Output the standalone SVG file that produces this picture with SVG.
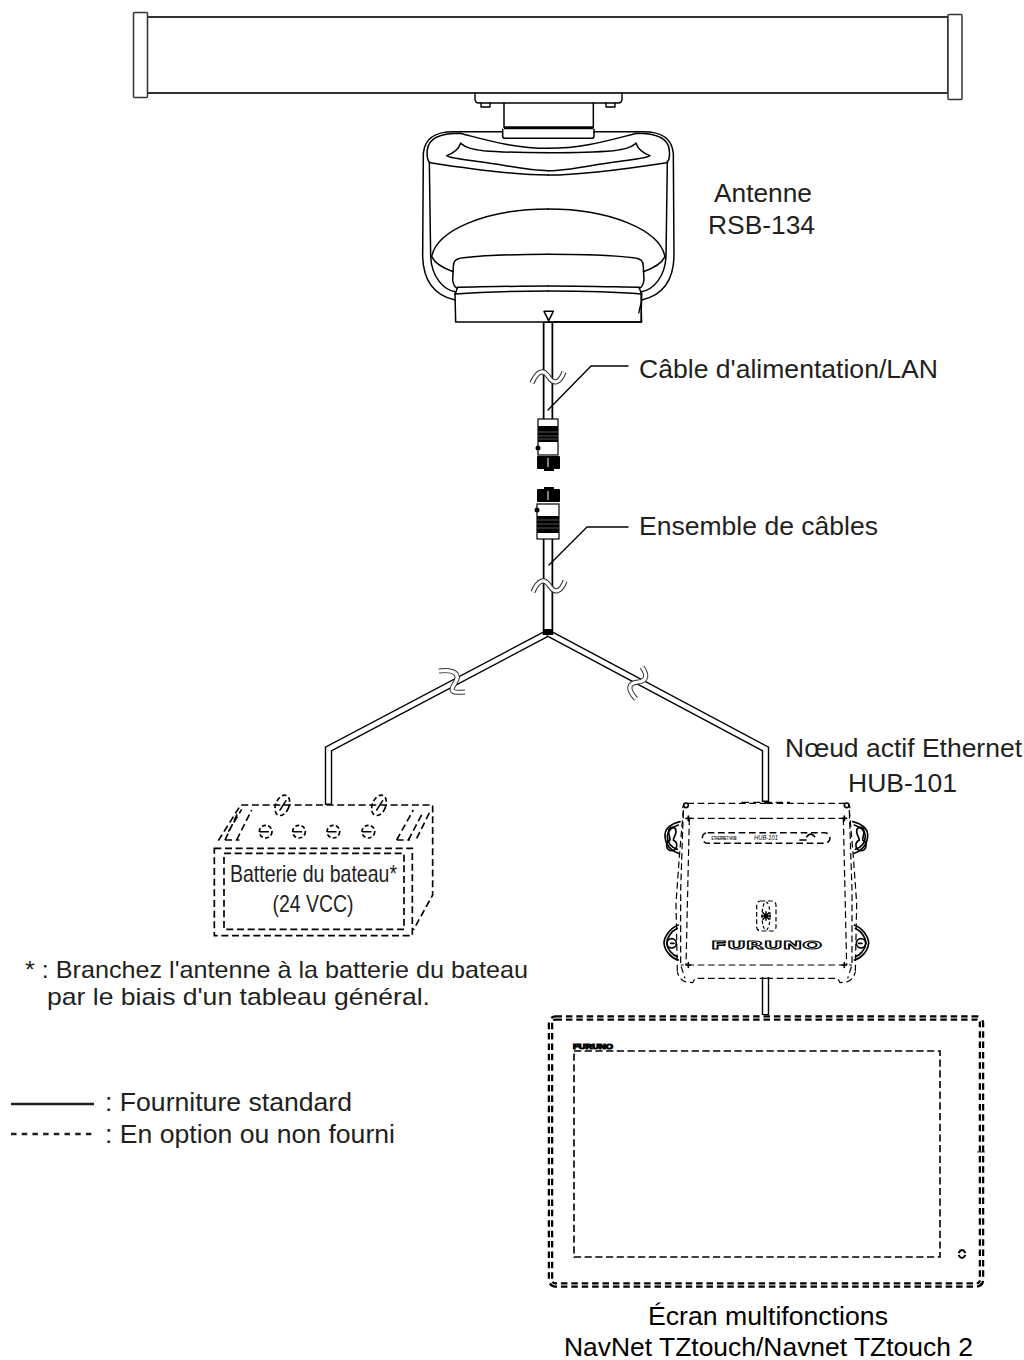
<svg xmlns="http://www.w3.org/2000/svg" xmlns:xlink="http://www.w3.org/1999/xlink" width="1024" height="1360" viewBox="0 0 1024 1360">
<style>
text{font-family:"Liberation Sans",Arial,sans-serif;fill:#231f20;font-size:26px}
.l{fill:none;stroke:#000;stroke-width:1.4;stroke-linejoin:round;stroke-linecap:round}
.z{fill:none;stroke:#000;stroke-width:4.5;stroke-linejoin:round;stroke-linecap:round}
.zw{fill:#fff;stroke:#000;stroke-width:4.5;stroke-linejoin:round}
.bd{fill:none;stroke:#000;stroke-width:5;stroke-dasharray:21 11}
.hd{fill:none;stroke:#000;stroke-width:3.6;stroke-dasharray:20 11}
.e{fill:none;stroke:#000;stroke-width:5;stroke-linejoin:round;stroke-linecap:round}
.co{fill:none;stroke:#000;stroke-width:10.500;stroke-linejoin:miter}
.ci{fill:none;stroke:#fff;stroke-width:7;stroke-linejoin:miter}
.bo{fill:none;stroke:#000;stroke-width:7.400;stroke-linejoin:miter}
.bi{fill:none;stroke:#fff;stroke-width:4.600;stroke-linejoin:miter}
.wo{fill:none;stroke:#333;stroke-width:5.200;stroke-linecap:butt}
.wi{fill:none;stroke:#fff;stroke-width:3.200;stroke-linecap:butt}
.k{fill:#000}
</style>
<defs>
<g id="body-half">
<path class="z" d="M308,125L160,125C110,125 75,140 70,190L68,500C70,570 100,615 165,630"/>
<path class="z" d="M82,180C85,145 120,130 180,130C260,150 340,175 445,175"/>
<path class="z" d="M82,180C80,200 82,212 90,218C200,235 340,255 445,255"/>
<path class="z" d="M88,215L92,500C95,560 130,600 168,606"/>
<path class="z" d="M182,160C175,180 160,190 140,197C150,205 200,210 240,215C320,225 380,242 445,242"/>
<path class="z" d="M182,160C200,175 220,178 250,182C320,188 380,188 445,188"/>
<path class="z" d="M95,500C110,420 260,357 445,357"/>
<path class="z" d="M95,500C105,520 130,535 160,545"/>
<path class="z" d="M445,493C350,493 250,497 190,503C165,505 160,515 160,530L158,570C160,585 165,592 172,595"/>
<path class="z" d="M172,592C280,590 350,588 445,588"/>
<path class="z" d="M165,612L172,595"/>
<path class="z" d="M165,612C250,605 350,603 445,603"/>
<path class="z" d="M165,612L167,696L445,696"/>
</g>
<g id="hub-half">
<path class="hd" d="M349,40L115,40C105,40 98,45 98,55"/>
<path class="hd" d="M349,85L100,85"/>
<path class="hd" d="M349,525L92,525"/>
<path class="hd" d="M349,565L135,565L128,578L105,575C95,572 85,560 82,545"/>
<path class="hd" d="M100,60L88,200L78,340L82,545"/>
<path class="hd" d="M118,85L108,525"/>
<path class="hd" d="M100,65L92,300L92,525L105,565"/>
<path class="e" d="M90,95C65,100 45,115 45,135C45,165 60,180 85,190"/>
<path class="e" d="M85,105C65,112 52,122 52,138C52,160 65,172 82,178"/>
<path class="e" d="M85,405C60,415 42,440 42,460C45,485 65,505 85,510"/>
<path class="e" d="M82,415C62,425 50,445 50,460C53,480 68,495 82,500"/>
<path class="e" d="M56,125C56,108 78,108 78,125C78,135 70,142 70,150C88,160 80,182 65,182C50,182 42,160 60,150C60,142 56,135 56,125Z"/>
<circle class="e" cx="65" cy="460" r="14"/>
<path class="e" d="M62,460H72"/>
<circle class="e" cx="108" cy="46" r="7"/>
<path class="e" d="M108,525H122M115,518V532M108,85H122M115,78V92"/>
</g>
</defs>

<g id="connectors">
<path class="bo" d="M548,633L328.500,749V805"/>
<path class="bi" d="M548,633L328.500,749V803.500"/>
<path class="bo" d="M548,633L765.500,749V802"/>
<path class="bi" d="M548,633L765.500,749V800.500"/>
<path class="bo" d="M765.500,977V1015"/>
<path class="bi" d="M765.500,977V1014"/>
<path class="co" d="M548,322V420"/>
<path class="ci" d="M548,323V420"/>
<path class="co" d="M548,538V635"/>
<path class="ci" d="M548,538V630"/>
<rect class="k" x="543" y="629" width="10" height="6"/>
<path class="wo" d="M532,383C537,371 543,369 548,376C553,384 559,385 564,372"/>
<path class="wi" d="M532,383C537,371 543,369 548,376C553,384 559,385 564,372"/>
<path class="wo" d="M533,592C538,580 544,578 549,585C554,593 560,594 565,581"/>
<path class="wi" d="M533,592C538,580 544,578 549,585C554,593 560,594 565,581"/>
<path class="wo" d="M439,671C454,669 461,674 455,683C449,692 452,693 465,692"/>
<path class="wi" d="M439,671C454,669 461,674 455,683C449,692 452,693 465,692"/>
<path class="wo" d="M636,699C627,689 628,683 638,682C648,681 647,674 642,667"/>
<path class="wi" d="M636,699C627,689 628,683 638,682C648,681 647,674 642,667"/>
<path class="l" d="M548,410L591,366H628"/>
<path class="l" d="M549,565L587,527H628"/>
</g>

<g id="antenna">
<rect x="147" y="17" width="801" height="76" fill="#fff" stroke="#333" stroke-width="2"/>
<rect x="133.500" y="12.500" width="14" height="85" rx="1" fill="#fff" stroke="#333" stroke-width="1.500"/>
<rect x="948" y="14.500" width="14" height="85" rx="1" fill="#fff" stroke="#333" stroke-width="1.500"/>
<path class="l" fill="#fff" d="M475,93V99Q475,103 479,103H618Q622,103 622,99V93"/>
<path class="l" d="M481,103V107H490V103M606,103V107H615V103"/>
<g transform="translate(400,90) scale(.33333)">
<use xlink:href="#body-half" href="#body-half"/>
<use xlink:href="#body-half" href="#body-half" transform="translate(890,0) scale(-1,1)"/>
<path class="z" d="M312,40V112M580,40V112M308,118V138Q308,145 315,145H575Q582,145 582,138V118"/>
<path style="fill:none;stroke:#000;stroke-width:9" d="M312,113H580"/>
<path style="fill:none;stroke:#000;stroke-width:4" d="M723,612L725,696H445M725,630L716,670"/>
<path class="zw" d="M432,664H460L446,692Z"/>
</g>
</g>

<g id="connector-upper">
<rect x="538" y="419" width="20" height="36" fill="#fff" stroke="#000" stroke-width="1.200"/>
<rect x="538" y="426" width="20" height="3" class="k"/>
<rect x="538" y="429" width="20" height="13" class="k"/>
<path stroke="#777" stroke-width=".7" d="M538,432H558M538,436H558M538,439H558"/>
<circle cx="538" cy="448" r="2.500" class="k"/>
<rect x="537" y="456" width="23" height="13" rx="1" class="k"/>
<rect x="544" y="469" width="10" height="2" class="k"/>
<path stroke="#fff" stroke-width="1" d="M548,458V467"/>
</g>
<g id="connector-lower">
<rect x="544" y="487" width="10" height="2" class="k"/>
<rect x="537" y="489" width="23" height="13" rx="1" class="k"/>
<path stroke="#fff" stroke-width="1" d="M548,491V500"/>
<rect x="537" y="504" width="22" height="35" fill="#fff" stroke="#000" stroke-width="1.200"/>
<rect x="537" y="516" width="22" height="17" class="k"/>
<path stroke="#777" stroke-width=".7" d="M537,520H559M537,524H559M537,528H559"/>
<circle cx="537" cy="510" r="2.500" class="k"/>
</g>

<g id="battery">
<g transform="translate(200,770) scale(.33333)">
<path class="bd" d="M43,235H637V497H43Z"/>
<path class="bd" d="M72,250H612V478H72Z"/>
<path class="bd" d="M55,212L122,105H698V375L640,480"/>
<path class="bd" d="M85,185L125,118M75,210L115,125M110,210L155,120M75,210H118"/>
<path class="bd" d="M590,210L640,120M625,210L670,125M650,205L690,125M590,210H630"/>
<ellipse class="bd" style="stroke-dasharray:14 8" cx="247" cy="106" rx="20" ry="32" transform="rotate(22 247 106)"/>
<ellipse class="bd" style="stroke-dasharray:14 8" cx="537" cy="106" rx="20" ry="32" transform="rotate(22 537 106)"/>
<path class="z" d="M240,120L258,92M530,120L548,92"/>
<g style="fill:none;stroke:#000;stroke-width:5;stroke-dasharray:12 7">
<circle cx="197" cy="185" r="19"/><circle cx="297" cy="185" r="19"/><circle cx="400" cy="185" r="19"/><circle cx="505" cy="185" r="19"/>
</g>
<path class="z" d="M180,185H205M280,185H305M383,185H408M488,185H513"/>
</g>
<text x="230" y="882" style="font-size:24px" textLength="167" lengthAdjust="spacingAndGlyphs">Batterie du bateau*</text>
<text x="272.500" y="912" style="font-size:24px" textLength="81" lengthAdjust="spacingAndGlyphs">(24 VCC)</text>
</g>

<g id="hub">
<g transform="translate(650,790) scale(.33333)">
<use xlink:href="#hub-half" href="#hub-half"/>
<use xlink:href="#hub-half" href="#hub-half" transform="translate(698,0) scale(-1,1)"/>
<path style="fill:none;stroke:#000;stroke-width:4;stroke-dasharray:22 12" d="M275,37H420"/>
<rect class="hd" style="stroke-width:4.500" x="157" y="128" width="383" height="32" rx="16"/>
<rect class="hd" style="stroke-dasharray:14 8" x="320" y="333" width="58" height="90" rx="12"/>
<ellipse class="hd" style="stroke-dasharray:10 7" cx="348" cy="378" rx="12" ry="42"/>
<path class="z" d="M335,378H361M339,368L357,388M339,388L357,368M348,365V391"/>
<path class="e" d="M450,150H468M470,140Q482,125 494,140"/>
</g>
<text x="711.500" y="840" style="font-size:4.500px;font-weight:bold;fill:#000" textLength="25" lengthAdjust="spacingAndGlyphs">ETHERNET HUB</text>
<text x="754" y="840" style="font-size:7px;font-style:italic;fill:#000" textLength="24" lengthAdjust="spacingAndGlyphs">HUB-101</text>
<text x="711" y="949" style="font-family:'DejaVu Sans',sans-serif;font-size:11px;font-weight:bold;fill:#fff;stroke:#000;stroke-width:.9" textLength="111" lengthAdjust="spacingAndGlyphs">FURUNO</text>
</g>

<g id="monitor">
<rect x="550.500" y="1018" width="431" height="267" rx="5" fill="none" stroke="#000" stroke-width="5.500" stroke-dasharray="6.500 3.900"/>
<rect x="550.500" y="1018" width="431" height="267" rx="5" fill="none" stroke="#fff" stroke-width="1"/>
<rect x="574" y="1051" width="366" height="206" fill="none" stroke="#000" stroke-width="1.600" stroke-dasharray="7.200 3.500"/>
<text x="573" y="1049" style="font-size:6.500px;font-weight:bold;fill:#000;stroke:#000;stroke-width:1" textLength="40" lengthAdjust="spacingAndGlyphs">FURUNO</text>
<path stroke="#333" stroke-width="1" d="M977,1152H985"/>
<path fill="none" stroke="#000" stroke-width="2" d="M958.500,1253Q962,1247 965.500,1253M958.500,1255Q962,1261 965.500,1255"/>
</g>

<g id="labels">
<text x="763" y="202" text-anchor="middle" textLength="98" lengthAdjust="spacingAndGlyphs">Antenne</text>
<text x="708" y="234" textLength="107" lengthAdjust="spacingAndGlyphs">RSB-134</text>
<text x="639" y="378" textLength="299" lengthAdjust="spacingAndGlyphs">Câble d'alimentation/LAN</text>
<text x="639" y="535" textLength="239" lengthAdjust="spacingAndGlyphs">Ensemble de câbles</text>
<text x="785" y="757" textLength="237" lengthAdjust="spacingAndGlyphs">Nœud actif Ethernet</text>
<text x="848" y="792" textLength="109" lengthAdjust="spacingAndGlyphs">HUB-101</text>
<text x="25" y="978" style="font-size:24px" textLength="503" lengthAdjust="spacingAndGlyphs">* : Branchez l'antenne à la batterie du bateau</text>
<text x="47" y="1005" style="font-size:24px" textLength="383" lengthAdjust="spacingAndGlyphs">par le biais d'un tableau général.</text>
<text x="105" y="1111" textLength="247" lengthAdjust="spacingAndGlyphs">: Fourniture standard</text>
<text x="105" y="1143" textLength="290" lengthAdjust="spacingAndGlyphs">: En option ou non fourni</text>
<text x="648" y="1325" textLength="240" lengthAdjust="spacingAndGlyphs" style="fill:#000">Écran multifonctions</text>
<text x="564" y="1356" textLength="409" lengthAdjust="spacingAndGlyphs" style="fill:#000">NavNet TZtouch/Navnet TZtouch 2</text>
</g>

<g id="legend">
<path stroke="#231f20" stroke-width="2.600" d="M11,1104H94"/>
<path stroke="#231f20" stroke-width="2.400" stroke-dasharray="5.500 5.200" d="M11,1134H92"/>
</g>
</svg>
